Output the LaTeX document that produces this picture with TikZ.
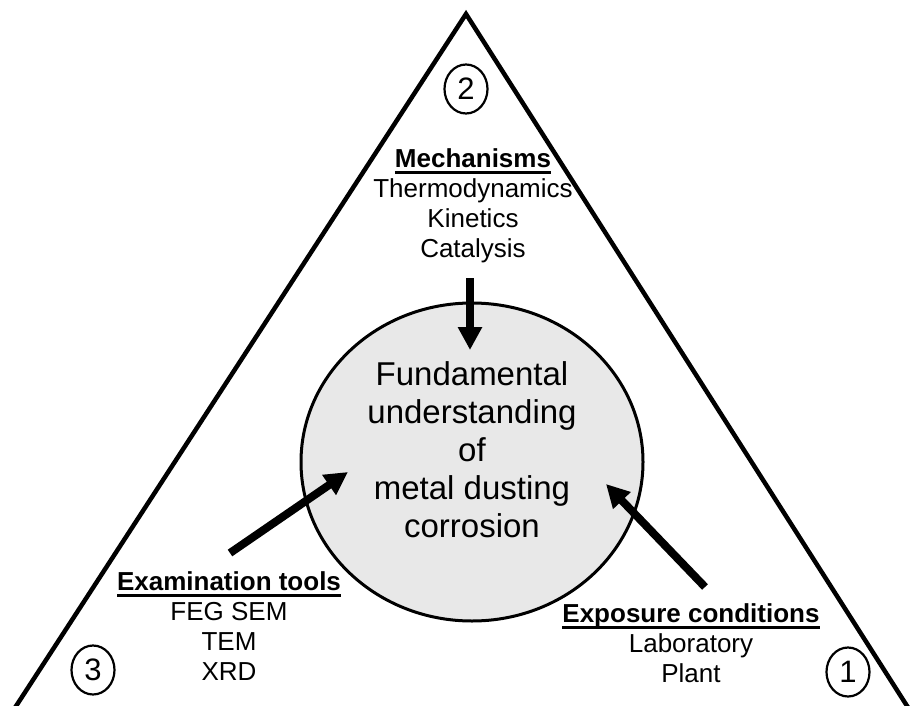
\documentclass[tikz,border=0pt]{standalone}
\usepackage{fontspec}
\setmainfont{Liberation Sans}
\usetikzlibrary{arrows.meta,positioning,shapes.geometric}

\newsavebox{\headbox}
\newcommand{\ulhead}[1]{\sbox{\headbox}{\textbf{#1}}\rlap{\rule[-6.5pt]{\wd\headbox}{2.5pt}}\usebox{\headbox}}

\begin{document}
\begin{tikzpicture}[
  x=1pt, y=-1pt,
  side/.style={line width=4.5pt, line join=miter},
  core/.style={draw, ellipse, line width=3pt, fill=black!9, minimum width=342pt,
               minimum height=318pt, inner sep=0pt},
  coretxt/.style={align=center, anchor=base, font=\fontsize{33}{38}\selectfont},
  num/.style={draw, ellipse, line width=2.2pt, minimum width=43pt, minimum height=49pt,
              inner sep=0pt, font=\fontsize{31}{31}\selectfont},
  grp/.style={align=center, anchor=base, font=\fontsize{26}{30}\selectfont},
  push/.style={line width=8pt, -{Triangle[length=23pt, width=23pt]}}
]
\useasboundingbox (0,0) rectangle (910,706);
\begin{scope}
  \clip (0,0) rectangle (910,706);
  \draw[side] (7,720) -- (466,14) -- (916,720);
\end{scope}

% centre (base = last line)
\node[core] (core) at (472,462) {};
\node[coretxt] (coretext) at (472,537)
  {Fundamental\\understanding\\of\\metal dusting\\corrosion};

% corners
\node[num] (n2) at (466,89) {2};
\node[num] (n3) at (93,670) {3};
\node[num] (n1) at (848,672) {1};

% groups
\node[grp] (mech) at (473,257) {\ulhead{Mechanisms}\\Thermodynamics\\Kinetics\\Catalysis};
\node[grp] (exam) at (229,680) {\ulhead{Examination tools}\\FEG SEM\\TEM\\XRD};
\node[grp] (expo) at (691,682) {\ulhead{Exposure conditions}\\Laboratory\\Plant};

% arrows
\coordinate (mechTail) at (470,278);
\coordinate (mechTip) at (470,350);
\coordinate (examTail) at (230,553);
\coordinate (examTip) at (348,472);
\coordinate (expoTail) at (705,587);
\coordinate (expoTip) at (606,484);
\draw[push] (mechTail) -- (mechTip);
\draw[push] (examTail) -- (examTip);
\draw[push] (expoTail) -- (expoTip);
\end{tikzpicture}
\end{document}
